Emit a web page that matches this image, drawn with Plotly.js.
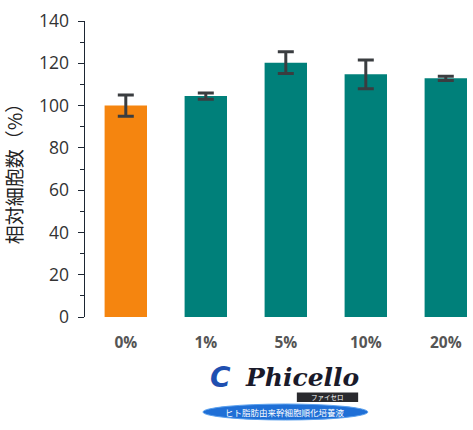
<!DOCTYPE html>
<html><head><meta charset="utf-8">
<script src="https://cdn.plot.ly/plotly-3.0.1.min.js"></script>
<style>html,body{margin:0;padding:0;background:#fff}#chart{width:473px;height:430px}</style>
</head><body><div id="chart"></div>
<script>
const categories = ['0%', '1%', '5%', '10%', '20%'];
const values = [100, 104.5, 120.3, 114.8, 112.9];
const errors = [5, 1.5, 5.1, 6.8, 1.0];
const barColors = ['#F5850F', '#00807A', '#00807A', '#00807A', '#00807A'];
const yTicks = [0, 20, 40, 60, 80, 100, 120, 140];

const trace = {
  type: 'bar', x: categories, y: values,
  marker: {color: barColors},
  width: 0.53,
  error_y: {type: 'data', array: errors, visible: true, color: '#3a3d40', thickness: 3, width: 8},
  hoverinfo: 'skip'
};

const layout = {
  width: 473, height: 430,
  margin: {l: 85, r: 0, t: 21, b: 113},
  paper_bgcolor: '#fff', plot_bgcolor: '#fff',
  showlegend: false,
  font: {family: '"Noto Sans CJK JP", "Open Sans", sans-serif', color: '#333'},
  xaxis: {
    type: 'category', range: [-0.51, 4.34],
    showline: false, ticks: '', zeroline: false, showgrid: false,
    tickfont: {size: 15.5, color: '#555', family: '"Open Sans", sans-serif', weight: 'bold'},
    ticklabelstandoff: 14
  },
  yaxis: {
    range: [0, 140], tickvals: yTicks, ticktext: yTicks.map(String),
    showline: true, linecolor: '#1d2633', linewidth: 1.5,
    ticks: 'outside', ticklen: 6, tickcolor: '#1d2633', tickwidth: 1,
    minor: {dtick: 10, ticks: 'outside', ticklen: 4, tickcolor: '#1d2633', tickwidth: 1},
    showgrid: false, zeroline: false,
    ticklabelstandoff: 5,
    tickfont: {size: 17.5, color: '#333', family: '"Open Sans", sans-serif'},
    title: {text: '相対細胞数（%）', font: {size: 19, color: '#222'}, standoff: 12}
  },
  shapes: [
    {type: 'rect', xref: 'paper', yref: 'paper', x0: 0.546, x1: 0.704, y0: -0.287, y1: -0.255,
      fillcolor: '#2a2a2e', line: {width: 0}},
    {type: 'circle', xref: 'paper', yref: 'paper', x0: 0.304, x1: 0.729, y0: -0.348, y1: -0.294,
      fillcolor: '#1f6fd6', line: {color: '#5aa0ee', width: 1}}
  ],
  annotations: [
    {xref: 'paper', yref: 'paper', x: 0.56, y: -0.203, yanchor: 'middle', xanchor: 'center', showarrow: false,
      text: '<b><i>Phicello</i></b>', font: {family: '"DejaVu Serif", "Liberation Serif", serif', size: 25, color: '#1a1a2a'}},
    {xref: 'paper', yref: 'paper', x: 0.348, y: -0.203, yanchor: 'middle', xanchor: 'center', showarrow: false,
      text: '<b><i>C</i></b>', font: {family: '"DejaVu Sans", sans-serif', size: 28, color: '#1f4fb0'}},
    {xref: 'paper', yref: 'paper', x: 0.625, y: -0.271, yanchor: 'middle', xanchor: 'center', showarrow: false,
      text: 'ファイセロ', font: {size: 6.5, color: '#fff'}},
    {xref: 'paper', yref: 'paper', x: 0.5165, y: -0.321, yanchor: 'middle', xanchor: 'center', showarrow: false,
      text: 'ヒト脂肪由来幹細胞順化培養液', font: {size: 8.5, color: '#fff'}}
  ]
};

Plotly.newPlot('chart', [trace], layout, {staticPlot: true, displayModeBar: false});
</script>
</body></html>
